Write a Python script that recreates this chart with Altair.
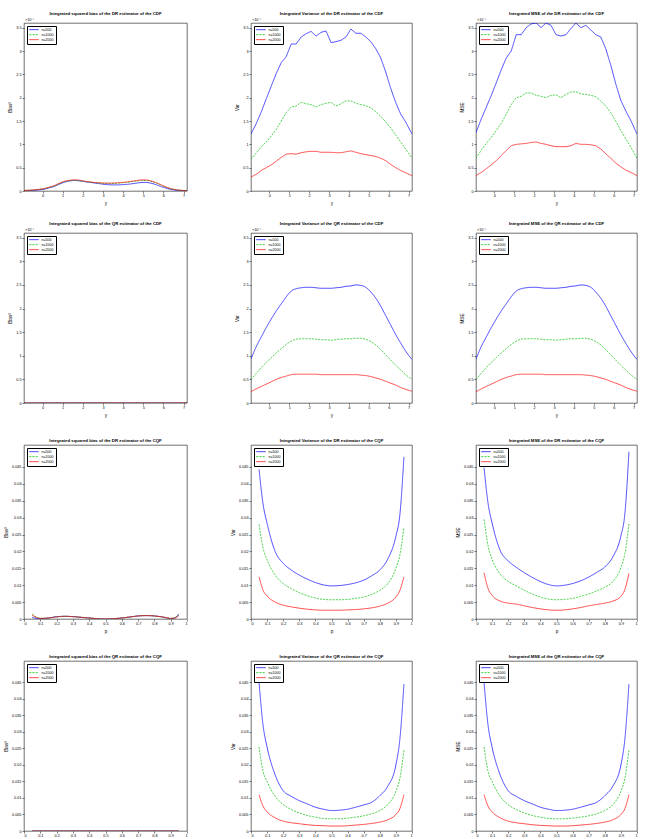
import altair as alt
import pandas as pd

series = ["n=500", "n=1000", "n=2000"]
colors = ["#0000ff", "#00c000", "#ff0000"]
dashes = [[1, 0], [2, 1.2], [1, 0]]

# grid of the CDF panels (y) and of the CQF panels (p)
y_grid = [-0.92, -0.65, -0.4, -0.15, 0.1, 0.35, 0.6, 0.85, 1.1, 1.35, 1.6, 1.85, 2.1, 2.35,
          2.6, 2.85, 3.1, 3.35, 3.6, 3.85, 4.1, 4.35, 4.6, 4.85, 5.1, 5.35, 5.6, 5.85, 6.1,
          6.35, 6.6, 6.85, 7.17]
p_grid = [0.05, 0.075, 0.1, 0.15, 0.2, 0.25, 0.3, 0.35, 0.4, 0.45, 0.5, 0.55, 0.6, 0.65,
          0.7, 0.75, 0.8, 0.85, 0.9, 0.925, 0.95]

# ---- DR estimator of the CDF (values in units of 1e-4)
dr_cdf_bias_500 = [0.005, 0.01, 0.015, 0.025, 0.04, 0.07, 0.1, 0.15, 0.19, 0.215, 0.225, 0.215,
                   0.2, 0.185, 0.17, 0.155, 0.14, 0.133, 0.13, 0.133, 0.14, 0.15, 0.165, 0.18,
                   0.185, 0.17, 0.14, 0.1, 0.065, 0.035, 0.018, 0.01, 0.005]
dr_cdf_bias_1000 = [0.01, 0.015, 0.022, 0.035, 0.05, 0.08, 0.11, 0.16, 0.2, 0.22, 0.23, 0.22,
                    0.205, 0.19, 0.178, 0.168, 0.162, 0.16, 0.163, 0.17, 0.18, 0.195, 0.21,
                    0.222, 0.225, 0.21, 0.175, 0.13, 0.085, 0.05, 0.028, 0.015, 0.008]
dr_cdf_bias_2000 = [0.012, 0.018, 0.025, 0.038, 0.055, 0.085, 0.12, 0.17, 0.21, 0.23, 0.24,
                    0.23, 0.21, 0.195, 0.182, 0.175, 0.17, 0.17, 0.172, 0.18, 0.19, 0.205,
                    0.22, 0.235, 0.238, 0.22, 0.185, 0.14, 0.09, 0.055, 0.03, 0.016, 0.01]

dr_cdf_var_500 = [1.22, 1.45, 1.7, 1.98, 2.25, 2.52, 2.75, 2.88, 3.15, 3.15, 3.3, 3.37, 3.42,
                  3.32, 3.4, 3.43, 3.18, 3.2, 3.23, 3.3, 3.47, 3.38, 3.38, 3.3, 3.2, 3.05,
                  2.85, 2.55, 2.2, 1.9, 1.65, 1.48, 1.22]
dr_cdf_var_1000 = [0.68, 0.82, 0.95, 1.05, 1.18, 1.32, 1.5, 1.68, 1.8, 1.82, 1.9, 1.87, 1.85,
                   1.8, 1.85, 1.88, 1.9, 1.82, 1.87, 1.93, 1.93, 1.88, 1.85, 1.83, 1.78, 1.7,
                   1.6, 1.48, 1.35, 1.2, 1.05, 0.9, 0.7]
dr_cdf_var_2000 = [0.3, 0.36, 0.44, 0.5, 0.56, 0.64, 0.72, 0.79, 0.8, 0.79, 0.82, 0.84, 0.85,
                   0.85, 0.83, 0.83, 0.83, 0.82, 0.82, 0.84, 0.86, 0.83, 0.8, 0.78, 0.76, 0.74,
                   0.7, 0.65, 0.57, 0.5, 0.44, 0.39, 0.33]

dr_cdf_mse_500 = [1.25, 1.55, 1.8, 2.05, 2.32, 2.6, 2.85, 3.0, 3.35, 3.35, 3.5, 3.58, 3.6, 3.5,
                  3.6, 3.55, 3.35, 3.32, 3.35, 3.48, 3.6, 3.5, 3.55, 3.45, 3.35, 3.3, 3.05,
                  2.7, 2.3, 1.95, 1.72, 1.52, 1.22]
dr_cdf_mse_1000 = [0.7, 0.88, 1.02, 1.15, 1.3, 1.45, 1.65, 1.85, 2.0, 2.03, 2.1, 2.1, 2.05,
                   2.03, 2.0, 2.05, 2.06, 2.0, 2.07, 2.12, 2.13, 2.08, 2.07, 2.05, 2.02, 1.93,
                   1.82, 1.68, 1.5, 1.3, 1.12, 0.95, 0.7]
dr_cdf_mse_2000 = [0.33, 0.4, 0.48, 0.56, 0.65, 0.76, 0.87, 0.97, 1.0, 1.01, 1.02, 1.04, 1.05,
                   1.02, 1.0, 0.97, 0.95, 0.95, 0.95, 0.97, 1.02, 1.0, 1.0, 0.99, 0.97, 0.9,
                   0.8, 0.7, 0.6, 0.52, 0.45, 0.4, 0.33]

# ---- QR estimator of the CDF (values in units of 1e-4)
qr_cdf_bias_500 = [0.0] * 33
qr_cdf_bias_1000 = [0.0] * 33
qr_cdf_bias_2000 = [0.0] * 33

qr_cdf_var_500 = [0.93, 1.2, 1.4, 1.6, 1.78, 1.95, 2.1, 2.25, 2.37, 2.42, 2.44, 2.45, 2.45,
                  2.44, 2.43, 2.43, 2.43, 2.44, 2.45, 2.47, 2.48, 2.5, 2.49, 2.45, 2.35, 2.22,
                  2.05, 1.85, 1.65, 1.45, 1.27, 1.1, 0.92]
qr_cdf_var_1000 = [0.5, 0.63, 0.75, 0.86, 0.96, 1.06, 1.15, 1.24, 1.31, 1.35, 1.36, 1.36, 1.36,
                   1.35, 1.34, 1.34, 1.33, 1.34, 1.35, 1.36, 1.36, 1.37, 1.37, 1.35, 1.3, 1.23,
                   1.13, 1.02, 0.91, 0.8, 0.7, 0.6, 0.5]
qr_cdf_var_2000 = [0.24, 0.3, 0.35, 0.4, 0.45, 0.5, 0.54, 0.57, 0.6, 0.61, 0.61, 0.61, 0.61,
                   0.61, 0.6, 0.6, 0.6, 0.6, 0.6, 0.6, 0.6, 0.6, 0.59, 0.58, 0.56, 0.53, 0.5,
                   0.46, 0.42, 0.38, 0.33, 0.29, 0.25]
qr_cdf_mse_500 = qr_cdf_var_500
qr_cdf_mse_1000 = qr_cdf_var_1000
qr_cdf_mse_2000 = qr_cdf_var_2000

# ---- DR estimator of the CQF
dr_cqf_bias_500 = [0.0005, 0.0002, 0.0001, 0.0003, 0.0007, 0.0008, 0.0007, 0.0005, 0.0003,
                   0.0001, 0.0, 0.0001, 0.0003, 0.0006, 0.0009, 0.001, 0.0009, 0.0006, 0.0001,
                   0.0003, 0.0015]
dr_cqf_bias_1000 = [0.0015, 0.0006, 0.0002, 0.0003, 0.0006, 0.0008, 0.0007, 0.0005, 0.0003,
                    0.0001, 0.0, 0.0001, 0.0003, 0.0006, 0.0009, 0.001, 0.0009, 0.0006, 0.0002,
                    0.0004, 0.0012]
dr_cqf_bias_2000 = [0.0012, 0.0005, 0.0002, 0.0003, 0.0006, 0.0008, 0.0007, 0.0005, 0.0003,
                    0.0001, 0.0, 0.0001, 0.0003, 0.0006, 0.0009, 0.001, 0.0009, 0.0006, 0.0002,
                    0.0003, 0.001]
dr_cqf_var_500 = [0.0443, 0.034, 0.0283, 0.02, 0.0165, 0.0145, 0.013, 0.0118, 0.0108, 0.0101,
                  0.0098, 0.0099, 0.0102, 0.0107, 0.0115, 0.0128, 0.0145, 0.0178, 0.0245,
                  0.031, 0.048]
dr_cqf_var_1000 = [0.028, 0.021, 0.0175, 0.013, 0.0105, 0.009, 0.0078, 0.0069, 0.0062, 0.0058,
                   0.0057, 0.0057, 0.0058, 0.0061, 0.0065, 0.0073, 0.0085, 0.0105, 0.015,
                   0.019, 0.027]
dr_cqf_var_2000 = [0.0125, 0.0085, 0.0068, 0.005, 0.0041, 0.0036, 0.0032, 0.0029, 0.0027,
                   0.0026, 0.0026, 0.0026, 0.0027, 0.0028, 0.003, 0.0033, 0.0038, 0.0047,
                   0.0065, 0.0085, 0.0125]
dr_cqf_mse_500 = [0.0448, 0.0342, 0.0284, 0.0203, 0.0172, 0.0153, 0.0137, 0.0123, 0.0111,
                  0.0102, 0.0098, 0.01, 0.0105, 0.0113, 0.0124, 0.0138, 0.0154, 0.0184, 0.0246,
                  0.0313, 0.0495]
dr_cqf_mse_1000 = [0.0295, 0.0216, 0.0177, 0.0133, 0.0111, 0.0098, 0.0085, 0.0074, 0.0065,
                   0.0059, 0.0057, 0.0058, 0.0061, 0.0067, 0.0074, 0.0083, 0.0094, 0.0111,
                   0.0152, 0.0194, 0.0282]
dr_cqf_mse_2000 = [0.0137, 0.009, 0.007, 0.0053, 0.0047, 0.0044, 0.0039, 0.0034, 0.003, 0.0027,
                   0.0026, 0.0027, 0.003, 0.0034, 0.0039, 0.0043, 0.0047, 0.0053, 0.0067,
                   0.0088, 0.0135]

# ---- QR estimator of the CQF
qr_cqf_bias_500 = [0.0] * 21
qr_cqf_bias_1000 = [0.0] * 21
qr_cqf_bias_2000 = [0.0] * 21
qr_cqf_var_500 = [0.045, 0.032, 0.0254, 0.017, 0.0122, 0.0105, 0.0092, 0.0082, 0.0072, 0.0066,
                  0.0062, 0.0063, 0.0066, 0.0072, 0.0079, 0.0087, 0.0107, 0.0136, 0.02, 0.028,
                  0.0445]
qr_cqf_var_1000 = [0.0255, 0.018, 0.015, 0.0105, 0.008, 0.0065, 0.0055, 0.0047, 0.0042, 0.0038,
                   0.0037, 0.0037, 0.0039, 0.0042, 0.0046, 0.0052, 0.0062, 0.008, 0.012, 0.016,
                   0.0245]
qr_cqf_var_2000 = [0.011, 0.0075, 0.0058, 0.004, 0.003, 0.0025, 0.0022, 0.0019, 0.0017, 0.0016,
                   0.0015, 0.0015, 0.0016, 0.0018, 0.002, 0.0023, 0.0027, 0.0034, 0.005,
                   0.0068, 0.011]
qr_cqf_mse_500 = qr_cqf_var_500
qr_cqf_mse_1000 = qr_cqf_var_1000
qr_cqf_mse_2000 = qr_cqf_var_2000

cdf_xticks = [0, 1, 2, 3, 4, 5, 6, 7]
cdf_yticks = [0, 0.5, 1, 1.5, 2, 2.5, 3, 3.5]
cqf_xticks = [0, 0.1, 0.2, 0.3, 0.4, 0.5, 0.6, 0.7, 0.8, 0.9, 1]
cqf_yticks = [0, 0.005, 0.01, 0.015, 0.02, 0.025, 0.03, 0.035, 0.04, 0.045]

FONT = "Liberation Sans"
COL_W = [163, 161, 161]
ROW_H = [168, 170, 174, 170]


def panel(xs, ys_list, title, ytitle, xtitle, xdom, ydom, xticks, yticks, exp, interp, w, h):
    rows = []
    for s, ys in zip(series, ys_list):
        for x, v in zip(xs, ys):
            rows.append({"x": x, "v": v, "n": s})
    df = pd.DataFrame(rows)
    leg = alt.Legend(orient="top-left", offset=3, title=None, symbolType="stroke",
                     symbolSize=90, symbolStrokeWidth=0.8, labelFontSize=3.6, labelFont=FONT,
                     clipHeight=4.3, rowPadding=0, padding=1.5, strokeColor="#000",
                     fillColor="#fff", labelOffset=2, labelLimit=60)
    xaxis = alt.Axis(values=xticks, format="~g", title=xtitle if xtitle else None,
                     labelFontSize=3.8, titleFontSize=4.6, titleFontWeight="normal",
                     tickSize=2, labelPadding=0.5, titlePadding=3, domain=False,
                     grid=False, labelFont=FONT, titleFont=FONT, tickColor="#000",
                     labelColor="#000", tickWidth=0.5)
    yaxis = alt.Axis(values=yticks, format="~g", title=ytitle, labelFontSize=3.8,
                     titleFontSize=4.6, titleFontWeight="normal", tickSize=2, labelPadding=1,
                     titlePadding=3, domain=False, grid=False, labelFont=FONT,
                     titleFont=FONT, tickColor="#000", labelColor="#000", tickWidth=0.5)
    lines = alt.Chart(df).mark_line(strokeWidth=0.7, interpolate=interp, clip=True).encode(
        x=alt.X("x:Q", scale=alt.Scale(domain=xdom, nice=False, zero=False), axis=xaxis),
        y=alt.Y("v:Q", scale=alt.Scale(domain=ydom, nice=False), axis=yaxis),
        color=alt.Color("n:N", scale=alt.Scale(domain=series, range=colors), legend=leg),
        strokeDash=alt.StrokeDash("n:N", scale=alt.Scale(domain=series, range=dashes),
                                  legend=leg),
    )
    layers = [lines]
    if exp:
        t = alt.Chart(pd.DataFrame({"t": [exp]})).mark_text(
            fontSize=3.8, align="left", baseline="bottom", font=FONT, fill="#000"
        ).encode(text="t:N", x=alt.value(1), y=alt.value(-1))
        layers.append(t)
    return alt.layer(*layers).properties(
        width=w, height=h,
        title=alt.TitleParams(title, fontSize=4.3, fontWeight="bold", font=FONT, offset=2,
                              anchor="middle", color="#000"),
    )


specs = [
    ("DR", "CDF", [dr_cdf_bias_500, dr_cdf_bias_1000, dr_cdf_bias_2000],
     [dr_cdf_var_500, dr_cdf_var_1000, dr_cdf_var_2000],
     [dr_cdf_mse_500, dr_cdf_mse_1000, dr_cdf_mse_2000]),
    ("QR", "CDF", [qr_cdf_bias_500, qr_cdf_bias_1000, qr_cdf_bias_2000],
     [qr_cdf_var_500, qr_cdf_var_1000, qr_cdf_var_2000],
     [qr_cdf_mse_500, qr_cdf_mse_1000, qr_cdf_mse_2000]),
    ("DR", "CQF", [dr_cqf_bias_500, dr_cqf_bias_1000, dr_cqf_bias_2000],
     [dr_cqf_var_500, dr_cqf_var_1000, dr_cqf_var_2000],
     [dr_cqf_mse_500, dr_cqf_mse_1000, dr_cqf_mse_2000]),
    ("QR", "CQF", [qr_cqf_bias_500, qr_cqf_bias_1000, qr_cqf_bias_2000],
     [qr_cqf_var_500, qr_cqf_var_1000, qr_cqf_var_2000],
     [qr_cqf_mse_500, qr_cqf_mse_1000, qr_cqf_mse_2000]),
]

panels = []
for r, (est, fn, bias, var, mse) in enumerate(specs):
    if fn == "CDF":
        xs, xdom, ydom, xt, yt, exp, xt_title = y_grid, [-0.92, 7.17], [0, 3.6], cdf_xticks, cdf_yticks, "×10⁻⁴", "y"
    else:
        xs, xdom, ydom, xt, yt, exp, xt_title = p_grid, [0, 1], [0, 0.0515], cqf_xticks, cqf_yticks, None, "p"
    if r == 3:
        xt_title = None
    interp_var = "linear" if (est == "DR" and fn == "CDF") else "monotone"
    kinds = [("Integrated squared bias", "Bias²", bias, "monotone"),
             ("Integrated Variance", "Var", var, interp_var),
             ("Integrated MSE", "MSE", mse, interp_var)]
    for c, (lbl, yl, data, interp) in enumerate(kinds):
        title = f"{lbl} of the {est} estimator of the {fn}"
        panels.append(panel(xs, data, title, yl, xt_title, xdom, ydom, xt, yt, exp, interp,
                            COL_W[c], ROW_H[r]))

chart = (
    alt.concat(*panels, columns=3, spacing={"row": 42, "column": 64}, bounds="flush")
    .resolve_scale(color="independent", strokeDash="independent")
    .resolve_legend(color="independent", strokeDash="independent")
    .properties(padding={"left": 3, "top": 11, "right": 0, "bottom": 0}, background="#fff")
    .configure_view(stroke="#333", strokeWidth=0.7)
)

chart.save("out.html", embed_options={"renderer": "svg", "actions": False})
